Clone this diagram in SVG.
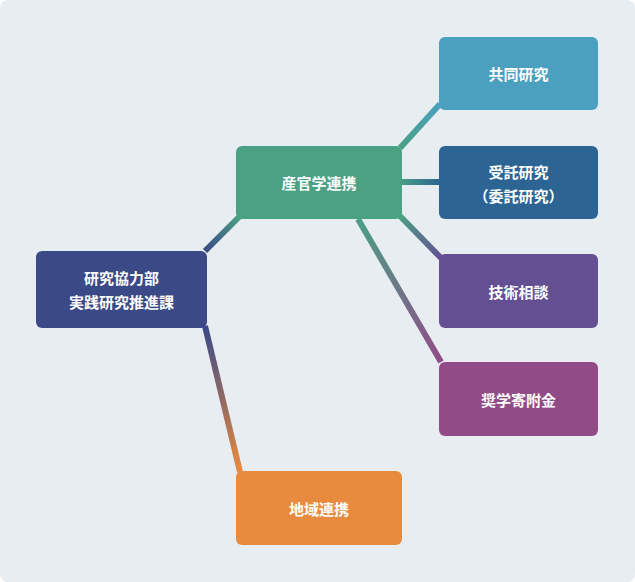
<svg xmlns="http://www.w3.org/2000/svg" width="635" height="582" viewBox="0 0 635 582">
<style>
text{font-family:"Noto Sans CJK JP","Noto Sans",sans-serif;font-size:15px;font-weight:bold;fill:#fff;text-anchor:middle;dominant-baseline:central}
.c{fill:none;stroke-width:6}
</style>
<defs>
<linearGradient id="g1" gradientUnits="userSpaceOnUse" x1="205" y1="251" x2="240" y2="216"><stop offset="0" stop-color="#3b4a87"/><stop offset="1" stop-color="#4aa184"/></linearGradient>
<linearGradient id="g2" gradientUnits="userSpaceOnUse" x1="205" y1="328" x2="240" y2="472"><stop offset="0" stop-color="#3b4a87"/><stop offset="1" stop-color="#e98b3e"/></linearGradient>
<linearGradient id="g3" gradientUnits="userSpaceOnUse" x1="400" y1="148" x2="440" y2="104"><stop offset="0" stop-color="#4aa184"/><stop offset="1" stop-color="#4ba0bf"/></linearGradient>
<linearGradient id="g4" gradientUnits="userSpaceOnUse" x1="400" y1="182" x2="440" y2="182"><stop offset="0" stop-color="#4aa184"/><stop offset="1" stop-color="#2c6594"/></linearGradient>
<linearGradient id="g5" gradientUnits="userSpaceOnUse" x1="400" y1="216" x2="441" y2="258"><stop offset="0" stop-color="#4aa184"/><stop offset="1" stop-color="#644f93"/></linearGradient>
<linearGradient id="g6" gradientUnits="userSpaceOnUse" x1="358" y1="219" x2="441" y2="362"><stop offset="0" stop-color="#4aa184"/><stop offset="1" stop-color="#914c88"/></linearGradient>
</defs>
<rect width="635" height="582" rx="8" fill="#e8edf1"/>
<g id="connectors">
<line class="c" x1="205" y1="251" x2="240" y2="216" stroke="url(#g1)"/>
<line class="c" x1="205" y1="326" x2="240" y2="472" stroke="url(#g2)"/>
<line class="c" x1="400" y1="148" x2="440" y2="104" stroke="url(#g3)"/>
<line class="c" x1="400" y1="182" x2="440" y2="182" stroke="url(#g4)"/>
<line class="c" x1="400" y1="216" x2="441" y2="258" stroke="url(#g5)"/>
<line class="c" x1="358" y1="219" x2="441" y2="362" stroke="url(#g6)"/>
</g>
<g id="root"><rect x="36" y="251" width="171" height="77" rx="6" fill="#3b4a87"/><text x="121.5" y="277">研究協力部</text><text x="121.5" y="301">実践研究推進課</text></g>
<g id="sangaku"><rect x="236" y="146" width="166" height="73" rx="6" fill="#4aa184"/><text x="319" y="182.5">産官学連携</text></g>
<g id="chiiki"><rect x="236" y="471" width="166" height="74" rx="6" fill="#e98b3e"/><text x="319" y="508">地域連携</text></g>
<g id="kyodo"><rect x="439" y="37" width="159" height="73" rx="6" fill="#4ba0bf"/><text x="518.5" y="73.5">共同研究</text></g>
<g id="jutaku"><rect x="439" y="146" width="159" height="73" rx="6" fill="#2c6594"/><text x="518.5" y="171">受託研究</text><text x="518.5" y="195">（委託研究）</text></g>
<g id="gijutsu"><rect x="439" y="254" width="159" height="74" rx="6" fill="#644f93"/><text x="518.5" y="291">技術相談</text></g>
<g id="shogaku"><rect x="439" y="362" width="159" height="74" rx="6" fill="#914c88"/><text x="518.5" y="399">奨学寄附金</text></g>
</svg>
